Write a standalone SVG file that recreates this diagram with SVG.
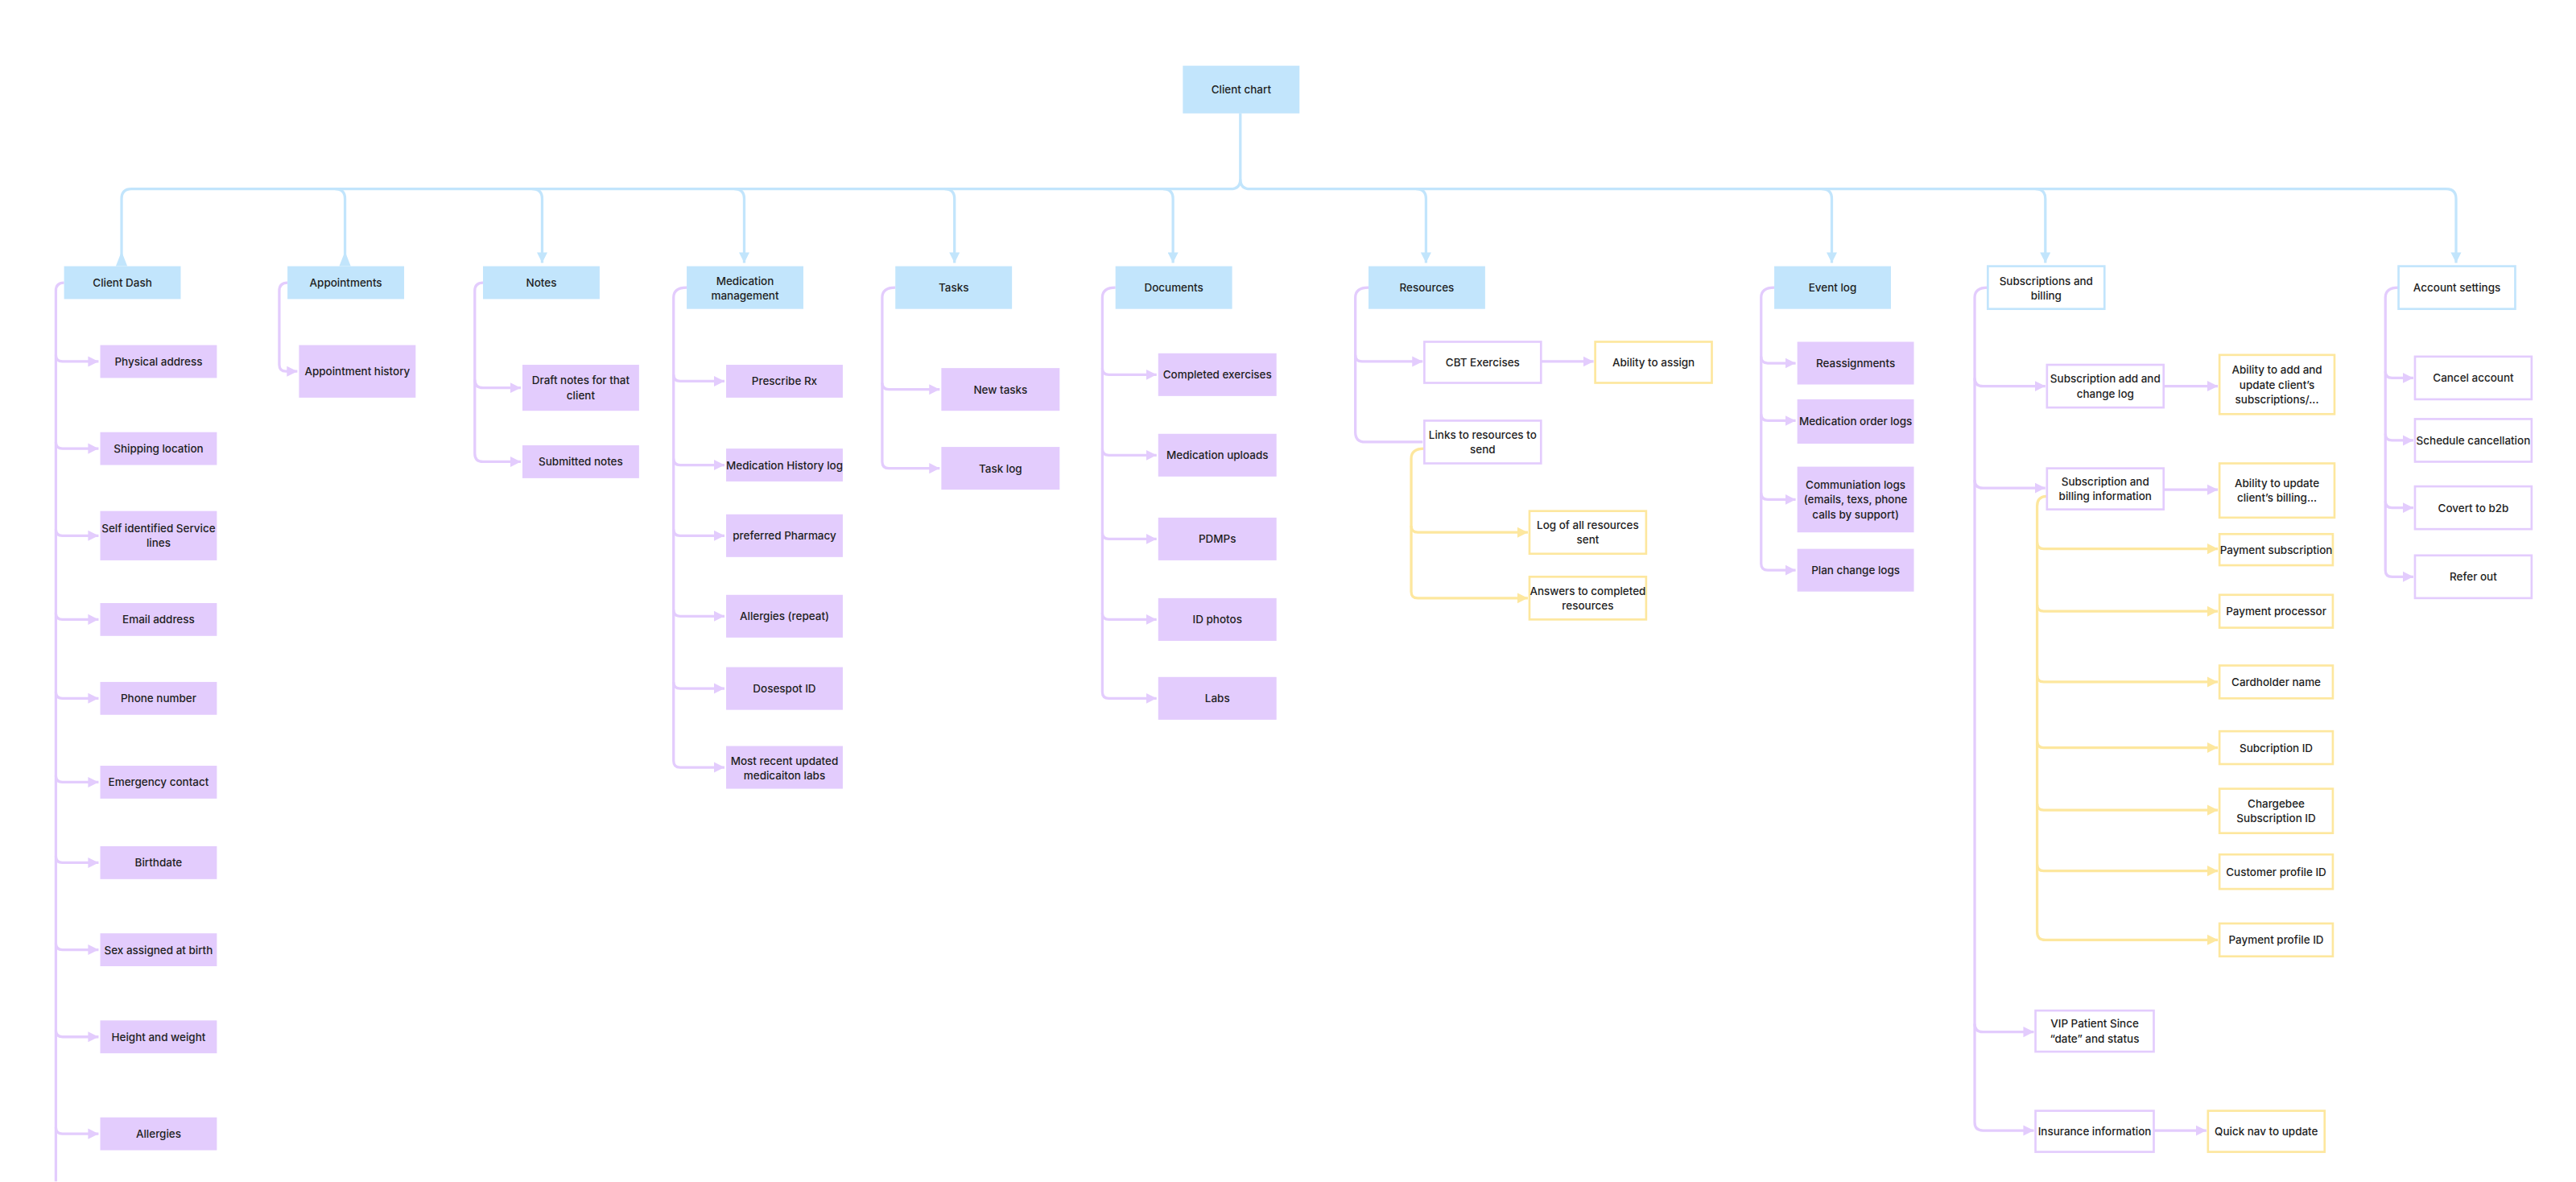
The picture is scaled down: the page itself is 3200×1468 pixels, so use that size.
<svg xmlns="http://www.w3.org/2000/svg" width="3200" height="1468" viewBox="0 0 3200 1468">
<defs>
<style>
text{font-family:Inter,"Liberation Sans",sans-serif;font-size:6.6px;font-weight:500;fill:#1e1e1e;text-anchor:middle;dominant-baseline:central}
.b{fill:#c2e5fc}
.bw{fill:#fff;stroke:#c2e5fc;stroke-width:1.3}
.p{fill:#e3ccfd}
.pw{fill:#fff;stroke:#e3ccfd;stroke-width:1.3}
.yw{fill:#fff;stroke:#fde79e;stroke-width:1.3}
.lb{fill:none;stroke:#c2e5fc;stroke-width:1.6}
.lp{fill:none;stroke:#e3ccfd;stroke-width:1.6}
.ly{fill:none;stroke:#fde79e;stroke-width:1.6}
</style>
<marker id="ab" viewBox="0 0 10 10" refX="10" refY="5" markerWidth="4" markerHeight="4" orient="auto"><path d="M0 0L10 5L0 10z" fill="#c2e5fc"/></marker>
<marker id="ap" viewBox="0 0 10 10" refX="10" refY="5" markerWidth="4" markerHeight="4.5" orient="auto"><path d="M0 0L10 5L0 10z" fill="#e3ccfd"/></marker>
<marker id="ay" viewBox="0 0 10 10" refX="10" refY="5" markerWidth="4" markerHeight="4.5" orient="auto"><path d="M0 0L10 5L0 10z" fill="#fde79e"/></marker>
</defs>
<rect width="3200" height="1468" fill="#fff"/>
<g transform="scale(2.0408)">
<g id="connectors">
<path class="lb" d="M755 69V109Q755 115 749 115H80Q74 115 74 121V160"/>
<path class="lb" d="M755 109Q755 115 761 115H1489Q1495 115 1495 121V160" marker-end="url(#ab)"/>
<polygon points="74,153 70.5,162 77.5,162" fill="#c2e5fc"/>
<path class="lb" d="M204 115Q210 115 210 121V160"/>
<polygon points="210,153 206.5,162 213.5,162" fill="#c2e5fc"/>
<path class="lb" d="M324 115Q330 115 330 121V160" marker-end="url(#ab)"/>
<path class="lb" d="M447 115Q453 115 453 121V160" marker-end="url(#ab)"/>
<path class="lb" d="M575 115Q581 115 581 121V160" marker-end="url(#ab)"/>
<path class="lb" d="M708 115Q714 115 714 121V160" marker-end="url(#ab)"/>
<path class="lb" d="M862 115Q868 115 868 121V160" marker-end="url(#ab)"/>
<path class="lb" d="M1109 115Q1115 115 1115 121V160" marker-end="url(#ab)"/>
<path class="lb" d="M1239 115Q1245 115 1245 121V160" marker-end="url(#ab)"/>
<!-- Client Dash -->
<path class="lp" d="M39 172Q34 172 34 177V719"/>
<path class="lp" d="M34 216Q34 220 38 220H60" marker-end="url(#ap)"/>
<path class="lp" d="M34 269Q34 273 38 273H60" marker-end="url(#ap)"/>
<path class="lp" d="M34 322Q34 326 38 326H60" marker-end="url(#ap)"/>
<path class="lp" d="M34 373Q34 377 38 377H60" marker-end="url(#ap)"/>
<path class="lp" d="M34 421Q34 425 38 425H60" marker-end="url(#ap)"/>
<path class="lp" d="M34 472Q34 476 38 476H60" marker-end="url(#ap)"/>
<path class="lp" d="M34 521Q34 525 38 525H60" marker-end="url(#ap)"/>
<path class="lp" d="M34 574Q34 578 38 578H60" marker-end="url(#ap)"/>
<path class="lp" d="M34 627Q34 631 38 631H60" marker-end="url(#ap)"/>
<path class="lp" d="M34 686Q34 690 38 690H60" marker-end="url(#ap)"/>
<!-- Appointments -->
<path class="lp" d="M175 172Q170 172 170 177V222Q170 226 174 226H181" marker-end="url(#ap)"/>
<!-- Notes -->
<path class="lp" d="M294 172Q289 172 289 177V276Q289 281 294 281H317" marker-end="url(#ap)"/>
<path class="lp" d="M289 231Q289 236 294 236H317" marker-end="url(#ap)"/>
<!-- Medication -->
<path class="lp" d="M418 175Q410 175 410 181V463Q410 467 414 467H441" marker-end="url(#ap)"/>
<path class="lp" d="M410 228Q410 232 414 232H441" marker-end="url(#ap)"/>
<path class="lp" d="M410 279Q410 283 414 283H441" marker-end="url(#ap)"/>
<path class="lp" d="M410 322Q410 326 414 326H441" marker-end="url(#ap)"/>
<path class="lp" d="M410 371Q410 375 414 375H441" marker-end="url(#ap)"/>
<path class="lp" d="M410 415Q410 419 414 419H441" marker-end="url(#ap)"/>
<!-- Tasks -->
<path class="lp" d="M545 175Q537 175 537 181V281Q537 285 541 285H572" marker-end="url(#ap)"/>
<path class="lp" d="M537 233Q537 237 541 237H572" marker-end="url(#ap)"/>
<!-- Documents -->
<path class="lp" d="M679 175Q671 175 671 181V421Q671 425 675 425H704" marker-end="url(#ap)"/>
<path class="lp" d="M671 224Q671 228 675 228H704" marker-end="url(#ap)"/>
<path class="lp" d="M671 273Q671 277 675 277H704" marker-end="url(#ap)"/>
<path class="lp" d="M671 324Q671 328 675 328H704" marker-end="url(#ap)"/>
<path class="lp" d="M671 373Q671 377 675 377H704" marker-end="url(#ap)"/>
<!-- Resources -->
<path class="lp" d="M833 175Q825 175 825 181V263Q825 269 831 269H866"/>
<path class="lp" d="M825 216Q825 220 829 220H866" marker-end="url(#ap)"/>
<path class="lp" d="M938 220H970" marker-end="url(#ap)"/>
<path class="ly" d="M867 273Q859 273 859 279V360Q859 364 863 364H930" marker-end="url(#ay)"/>
<path class="ly" d="M859 320Q859 324 863 324H930" marker-end="url(#ay)"/>
<!-- Event log -->
<path class="lp" d="M1080 175Q1072 175 1072 181V343Q1072 347 1076 347H1093" marker-end="url(#ap)"/>
<path class="lp" d="M1072 217Q1072 221 1076 221H1093" marker-end="url(#ap)"/>
<path class="lp" d="M1072 252Q1072 256 1076 256H1093" marker-end="url(#ap)"/>
<path class="lp" d="M1072 300Q1072 304 1076 304H1093" marker-end="url(#ap)"/>
<!-- Subscriptions -->
<path class="lp" d="M1210 175Q1202 175 1202 181V683Q1202 688 1207 688H1238" marker-end="url(#ap)"/>
<path class="lp" d="M1202 230Q1202 235 1207 235H1245" marker-end="url(#ap)"/>
<path class="lp" d="M1202 292Q1202 297 1207 297H1245" marker-end="url(#ap)"/>
<path class="lp" d="M1202 623Q1202 628 1207 628H1238" marker-end="url(#ap)"/>
<path class="lp" d="M1317 235H1350" marker-end="url(#ap)"/>
<path class="lp" d="M1317 298H1350" marker-end="url(#ap)"/>
<path class="lp" d="M1311 688H1343" marker-end="url(#ap)"/>
<path class="ly" d="M1246 302Q1240 302 1240 308V567Q1240 572 1245 572H1350" marker-end="url(#ay)"/>
<path class="ly" d="M1240 330Q1240 334 1244 334H1350" marker-end="url(#ay)"/>
<path class="ly" d="M1240 368Q1240 372 1244 372H1350" marker-end="url(#ay)"/>
<path class="ly" d="M1240 411Q1240 415 1244 415H1350" marker-end="url(#ay)"/>
<path class="ly" d="M1240 451Q1240 455 1244 455H1350" marker-end="url(#ay)"/>
<path class="ly" d="M1240 489Q1240 493 1244 493H1350" marker-end="url(#ay)"/>
<path class="ly" d="M1240 526Q1240 530 1244 530H1350" marker-end="url(#ay)"/>
<!-- Account settings -->
<path class="lp" d="M1460 175Q1452 175 1452 181V347Q1452 351 1456 351H1469" marker-end="url(#ap)"/>
<path class="lp" d="M1452 226Q1452 230 1456 230H1469" marker-end="url(#ap)"/>
<path class="lp" d="M1452 264Q1452 268 1456 268H1469" marker-end="url(#ap)"/>
<path class="lp" d="M1452 305Q1452 309 1456 309H1469" marker-end="url(#ap)"/>
</g>
<g id="n-root"><rect class="b" x="720" y="40" width="71" height="29"/><text x="755.5" y="54.5">Client chart</text></g>
<g id="n-clientdash"><rect class="b" x="39" y="162" width="71" height="20"/><text x="74.5" y="172">Client Dash</text></g>
<g id="n-appointments"><rect class="b" x="175" y="162" width="71" height="20"/><text x="210.5" y="172">Appointments</text></g>
<g id="n-notes"><rect class="b" x="294" y="162" width="71" height="20"/><text x="329.5" y="172">Notes</text></g>
<g id="n-med"><rect class="b" x="418" y="162" width="71" height="26"/><text x="453.5" y="171">Medication</text><text x="453.5" y="180">management</text></g>
<g id="n-tasks"><rect class="b" x="545" y="162" width="71" height="26"/><text x="580.5" y="175">Tasks</text></g>
<g id="n-docs"><rect class="b" x="679" y="162" width="71" height="26"/><text x="714.5" y="175">Documents</text></g>
<g id="n-resources"><rect class="b" x="833" y="162" width="71" height="26"/><text x="868.5" y="175">Resources</text></g>
<g id="n-eventlog"><rect class="b" x="1080" y="162" width="71" height="26"/><text x="1115.5" y="175">Event log</text></g>
<g id="n-subs"><rect class="bw" x="1210" y="162" width="71" height="26"/><text x="1245.5" y="171">Subscriptions and</text><text x="1245.5" y="180">billing</text></g>
<g id="n-account"><rect class="bw" x="1460" y="162" width="71" height="26"/><text x="1495.5" y="175">Account settings</text></g>

<g id="n-cd1"><rect class="p" x="61" y="210" width="71" height="20"/><text x="96.5" y="220">Physical address</text></g>
<g id="n-cd2"><rect class="p" x="61" y="263" width="71" height="20"/><text x="96.5" y="273">Shipping location</text></g>
<g id="n-cd3"><rect class="p" x="61" y="311" width="71" height="30"/><text x="96.5" y="321.5">Self identified Service</text><text x="96.5" y="330.5">lines</text></g>
<g id="n-cd4"><rect class="p" x="61" y="367" width="71" height="20"/><text x="96.5" y="377">Email address</text></g>
<g id="n-cd5"><rect class="p" x="61" y="415" width="71" height="20"/><text x="96.5" y="425">Phone number</text></g>
<g id="n-cd6"><rect class="p" x="61" y="466" width="71" height="20"/><text x="96.5" y="476">Emergency contact</text></g>
<g id="n-cd7"><rect class="p" x="61" y="515" width="71" height="20"/><text x="96.5" y="525">Birthdate</text></g>
<g id="n-cd8"><rect class="p" x="61" y="568" width="71" height="20"/><text x="96.5" y="578">Sex assigned at birth</text></g>
<g id="n-cd9"><rect class="p" x="61" y="621" width="71" height="20"/><text x="96.5" y="631">Height and weight</text></g>
<g id="n-cd10"><rect class="p" x="61" y="680" width="71" height="20"/><text x="96.5" y="690">Allergies</text></g>

<g id="n-ap1"><rect class="p" x="182" y="210" width="71" height="32"/><text x="217.5" y="226">Appointment history</text></g>
<g id="n-no1"><rect class="p" x="318" y="222" width="71" height="28"/><text x="353.5" y="231.5">Draft notes for that</text><text x="353.5" y="240.5">client</text></g>
<g id="n-no2"><rect class="p" x="318" y="271" width="71" height="20"/><text x="353.5" y="281">Submitted notes</text></g>

<g id="n-me1"><rect class="p" x="442" y="222" width="71" height="20"/><text x="477.5" y="232">Prescribe Rx</text></g>
<g id="n-me2"><rect class="p" x="442" y="273" width="71" height="20"/><text x="477.5" y="283">Medication History log</text></g>
<g id="n-me3"><rect class="p" x="442" y="313" width="71" height="26"/><text x="477.5" y="326">preferred Pharmacy</text></g>
<g id="n-me4"><rect class="p" x="442" y="362" width="71" height="26"/><text x="477.5" y="375">Allergies (repeat)</text></g>
<g id="n-me5"><rect class="p" x="442" y="406" width="71" height="26"/><text x="477.5" y="419">Dosespot ID</text></g>
<g id="n-me6"><rect class="p" x="442" y="454" width="71" height="26"/><text x="477.5" y="463">Most recent updated</text><text x="477.5" y="472">medicaiton  labs</text></g>

<g id="n-ta1"><rect class="p" x="573" y="224" width="72" height="26"/><text x="609" y="237">New tasks</text></g>
<g id="n-ta2"><rect class="p" x="573" y="272" width="72" height="26"/><text x="609" y="285">Task log</text></g>

<g id="n-do1"><rect class="p" x="705" y="215" width="72" height="26"/><text x="741" y="228">Completed exercises</text></g>
<g id="n-do2"><rect class="p" x="705" y="264" width="72" height="26"/><text x="741" y="277">Medication uploads</text></g>
<g id="n-do3"><rect class="p" x="705" y="315" width="72" height="26"/><text x="741" y="328">PDMPs</text></g>
<g id="n-do4"><rect class="p" x="705" y="364" width="72" height="26"/><text x="741" y="377">ID photos</text></g>
<g id="n-do5"><rect class="p" x="705" y="412" width="72" height="26"/><text x="741" y="425">Labs</text></g>

<g id="n-re1"><rect class="pw" x="867" y="208" width="71" height="25"/><text x="902.5" y="220.5">CBT Exercises</text></g>
<g id="n-re2"><rect class="yw" x="971" y="208" width="71" height="25"/><text x="1006.5" y="220.5">Ability to assign</text></g>
<g id="n-re3"><rect class="pw" x="867" y="256" width="71" height="26"/><text x="902.5" y="264.5">Links to resources to</text><text x="902.5" y="273.5">send</text></g>
<g id="n-re4"><rect class="yw" x="931" y="311" width="71" height="26"/><text x="966.5" y="319.5">Log of all resources</text><text x="966.5" y="328.5">sent</text></g>
<g id="n-re5"><rect class="yw" x="931" y="351" width="71" height="26"/><text x="966.5" y="359.5">Answers to completed</text><text x="966.5" y="368.5">resources</text></g>

<g id="n-ev1"><rect class="p" x="1094" y="208" width="71" height="26"/><text x="1129.5" y="221">Reassignments</text></g>
<g id="n-ev2"><rect class="p" x="1094" y="243" width="71" height="27"/><text x="1129.5" y="256.5">Medication order logs</text></g>
<g id="n-ev3"><rect class="p" x="1094" y="284" width="71" height="40"/><text x="1129.5" y="295">Communiation logs</text><text x="1129.5" y="304">(emails, texs, phone</text><text x="1129.5" y="313">calls by support)</text></g>
<g id="n-ev4"><rect class="p" x="1094" y="334" width="71" height="26"/><text x="1129.5" y="347">Plan change logs</text></g>

<g id="n-su1"><rect class="pw" x="1246" y="222" width="71" height="26"/><text x="1281.5" y="230.5">Subscription add and</text><text x="1281.5" y="239.5">change log</text></g>
<g id="n-su2"><rect class="yw" x="1351" y="216" width="70" height="36"/><text x="1386" y="225">Ability to add and</text><text x="1386" y="234">update client’s</text><text x="1386" y="243">subscriptions/...</text></g>
<g id="n-su3"><rect class="pw" x="1246" y="285" width="71" height="25"/><text x="1281.5" y="293">Subscription and</text><text x="1281.5" y="302">billing information</text></g>
<g id="n-su4"><rect class="yw" x="1351" y="282" width="70" height="33"/><text x="1386" y="294">Ability to update</text><text x="1386" y="303">client’s billing...</text></g>
<g id="n-su5"><rect class="yw" x="1351" y="325" width="69" height="19"/><text x="1385.5" y="334.5">Payment subscription</text></g>
<g id="n-su6"><rect class="yw" x="1351" y="362" width="69" height="20"/><text x="1385.5" y="372">Payment processor</text></g>
<g id="n-su7"><rect class="yw" x="1351" y="405" width="69" height="20"/><text x="1385.5" y="415">Cardholder name</text></g>
<g id="n-su8"><rect class="yw" x="1351" y="445" width="69" height="20"/><text x="1385.5" y="455">Subcription ID</text></g>
<g id="n-su9"><rect class="yw" x="1351" y="480" width="69" height="27"/><text x="1385.5" y="489">Chargebee</text><text x="1385.5" y="498">Subscription ID</text></g>
<g id="n-su10"><rect class="yw" x="1351" y="520" width="69" height="21"/><text x="1385.5" y="530.5">Customer profile ID</text></g>
<g id="n-su11"><rect class="yw" x="1351" y="562" width="69" height="20"/><text x="1385.5" y="572">Payment profile ID</text></g>
<g id="n-su12"><rect class="pw" x="1239" y="615" width="72" height="25"/><text x="1275" y="623">VIP Patient Since</text><text x="1275" y="632">“date” and status</text></g>
<g id="n-su13"><rect class="pw" x="1239" y="676" width="72" height="25"/><text x="1275" y="688.5">Insurance information</text></g>
<g id="n-su14"><rect class="yw" x="1344" y="676" width="71" height="25"/><text x="1379.5" y="688.5">Quick nav to update</text></g>

<g id="n-ac1"><rect class="pw" x="1470" y="217" width="71" height="26"/><text x="1505.5" y="230">Cancel account</text></g>
<g id="n-ac2"><rect class="pw" x="1470" y="255" width="71" height="26"/><text x="1505.5" y="268">Schedule cancellation</text></g>
<g id="n-ac3"><rect class="pw" x="1470" y="296" width="71" height="26"/><text x="1505.5" y="309">Covert to b2b</text></g>
<g id="n-ac4"><rect class="pw" x="1470" y="338" width="71" height="26"/><text x="1505.5" y="351">Refer out</text></g>
</g>
</svg>
